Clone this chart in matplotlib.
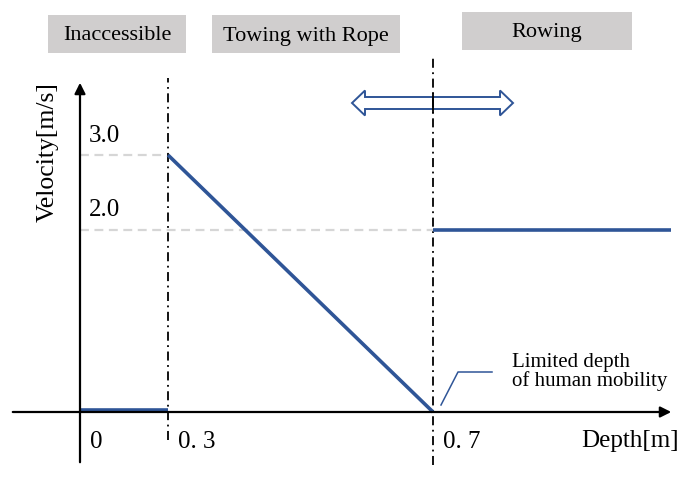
import numpy as np
import matplotlib
matplotlib.use("Agg")
import matplotlib.pyplot as plt
from matplotlib.patches import Polygon

plt.rcParams['font.family'] = ['Liberation Serif', 'DejaVu Serif']

# data
depth_knots = [0.0, 0.3, 0.7]
vel_knots = [0.0, 2.0, 3.0]
phases = ["Inaccessible", "Towing with Rope", "Rowing"]
x_ticklabels = ["0", "0. 3", "0. 7"]
y_ticklabels = ["3.0", "2.0"]
inaccessible_x = [0.0, 0.3]
inaccessible_v = [0.02, 0.02]
towing_x = [0.3, 0.7]
towing_v = [3.0, 0.0]
rowing_x = [0.7, 1.06]
rowing_v = [2.0, 2.0]

BLUE = '#2F5597'
H = 495  # figure height in px

# schematic (non-linear) axis scales: depth -> pixel, velocity -> pixel
xk = [-2.0, 0.0, 0.3, 0.7, 3.0]
xp = [80 - 2 * 293.3, 80, 168, 433, 433 + 2.3 * 662]
yk = [-3.0, 0.0, 2.0, 3.0, 8.0]
yp = [83 - 3 * 91, 83, 265, 340, 340 + 5 * 75]

def fx(v): return np.interp(v, xk, xp)
def ix(p): return np.interp(p, xp, xk)
def fy(v): return np.interp(v, yk, yp)
def iy(p): return np.interp(p, yp, yk)

fig = plt.figure(figsize=(6.81, 4.95), dpi=100)
ax = fig.add_axes([0, 0, 1, 1])
ax.set_xscale('function', functions=(fx, ix))
ax.set_yscale('function', functions=(fy, iy))
ax.set_xlim(ix(0), ix(681))
ax.set_ylim(iy(0), iy(H))
ax.axis('off')

# axes with arrows
ax.annotate('', xy=(ix(674), 0), xytext=(ix(10), 0),
            arrowprops=dict(arrowstyle='-|>', lw=1.6, color='black', mutation_scale=16))
ax.annotate('', xy=(0, iy(H - 80)), xytext=(0, iy(30)),
            arrowprops=dict(arrowstyle='-|>', lw=1.6, color='black', mutation_scale=16))

# dash-dot dividers
ax.plot([0.3, 0.3], [iy(55), iy(H - 78)], color='black', lw=1.3, ls=(0, (5, 2.5, 1, 2.5)))
ax.plot([0.7, 0.7], [iy(30), iy(H - 57)], color='black', lw=1.3, ls=(0, (5, 2.5, 1, 2.5)))

# reference dashed lines
ax.plot([0, 0.29], [3.0, 3.0], color='#D6D6D6', lw=1.6, ls=(0, (4, 2.5)))
ax.plot([0, rowing_x[1]], [2.0, 2.0], color='#D6D6D6', lw=1.6, ls=(0, (4, 2.5)))

# velocity curve
ax.plot(inaccessible_x, inaccessible_v, color=BLUE, lw=2.6, solid_capstyle='butt')
ax.plot(towing_x, towing_v, color=BLUE, lw=2.6, solid_capstyle='butt')
ax.plot(rowing_x, rowing_v, color=BLUE, lw=2.6, solid_capstyle='butt')

# tick labels
for xv, lab in zip(depth_knots, x_ticklabels):
    ax.text(fx(xv) + 10, H - 442, lab, transform=None, fontsize=18, ha='left', va='center')
ax.text(89, H - 136, y_ticklabels[0], transform=None, fontsize=18, ha='left', va='center')
ax.text(89, H - 210, y_ticklabels[1], transform=None, fontsize=18, ha='left', va='center')

# axis titles
ax.text(679, H - 441, "Depth[m]", transform=None, fontsize=18, ha='right', va='center')
ax.text(48, H - 152, "Velocity[m/s]", transform=None, fontsize=18.5, rotation=90,
        ha='center', va='center')

# phase header boxes
boxes = [(48, 186, 15, 53), (212, 400, 15, 53), (462, 632, 12, 50)]
for (x0, x1, y0, y1), name in zip(boxes, phases):
    ax.add_patch(plt.Rectangle((x0, H - y1), x1 - x0, y1 - y0, transform=None,
                               facecolor='#D0CECE', edgecolor='none'))
    ax.text((x0 + x1) / 2, H - (y0 + y1) / 2 - 2, name, transform=None,
            fontsize=16, ha='center', va='center')

# double arrow (outline)
cy, sh, hh = H - 103, 6, 12.5
ax.add_patch(Polygon([(352, cy), (365, cy + hh), (365, cy + sh), (500, cy + sh),
                      (500, cy + hh), (513, cy), (500, cy - hh), (500, cy - sh),
                      (365, cy - sh), (365, cy - hh)], closed=True, transform=None,
                     facecolor='white', edgecolor=BLUE, lw=1.4))
ax.plot([0.7, 0.7], [iy(H - 112), iy(H - 94)], color='black', lw=1.3)

# annotation
ax.plot([ix(441), ix(458), ix(492)], [iy(90), iy(123), iy(123)], color=BLUE, lw=1.1)
ax.text(512, H - 372, "Limited depth\nof human mobility", transform=None,
        fontsize=15, ha='left', va='center', linespacing=1.0)

fig.savefig('out.png', dpi=100)
